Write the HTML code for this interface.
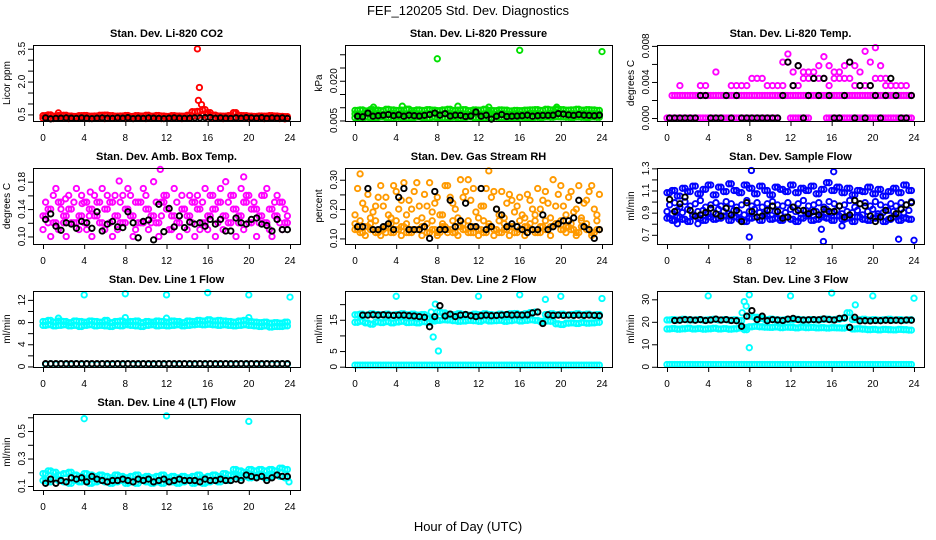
<!DOCTYPE html>
<html><head><meta charset="utf-8">
<style>
html,body{margin:0;padding:0;background:#fff;}
svg{display:block;font-family:"Liberation Sans",Arial,sans-serif;}
</style></head>
<body>
<svg id="chart" width="936" height="540" viewBox="0 0 936 540" xmlns="http://www.w3.org/2000/svg">
<rect x="0" y="0" width="936" height="540" fill="#fff"/>
<text x="468" y="15" text-anchor="middle" font-size="13">FEF_120205  Std. Dev. Diagnostics</text>
<text x="468" y="531" text-anchor="middle" font-size="13">Hour of Day (UTC)</text>
</svg>
<script>
const H=[0.25,0.75,1.25,1.75,2.25,2.75,3.25,3.75,4.25,4.75,5.25,5.75,6.25,6.75,7.25,7.75,8.25,8.75,9.25,9.75,10.25,10.75,11.25,11.75,12.25,12.75,13.25,13.75,14.25,14.75,15.25,15.75,16.25,16.75,17.25,17.75,18.25,18.75,19.25,19.75,20.25,20.75,21.25,21.75,22.25,22.75,23.25,23.75];
const H2=[0.0,0.5,1.0,1.5,2.0,2.5,3.0,3.5,4.0,4.5,5.0,5.5,6.0,6.5,7.0,7.5,8.0,8.5,9.0,9.5,10.0,10.5,11.0,11.5,12.0,12.5,13.0,13.5,14.0,14.5,15.0,15.5,16.0,16.5,17.0,17.5,18.0,18.5,19.0,19.5,20.0,20.5,21.0,21.5,22.0,22.5,23.0,23.5];
const xTicks=[0,4,8,12,16,20,24];
// Panel 1 CO2
const co2Hi=[0.44,0.48,0.42,0.45,0.46,0.43,0.41,0.44,0.45,0.42,0.43,0.46,0.47,0.44,0.42,0.43,0.45,0.41,0.44,0.43,0.46,0.42,0.45,0.43,0.41,0.44,0.43,0.42,0.46,0.62,0.64,0.72,0.58,0.47,0.43,0.42,0.44,0.58,0.45,0.44,0.42,0.41,0.43,0.42,0.44,0.43,0.41,0.40];
const co2Lo=[0.33,0.35,0.31,0.32,0.34,0.31,0.33,0.32,0.34,0.31,0.32,0.33,0.31,0.33,0.34,0.32,0.31,0.33,0.32,0.34,0.31,0.32,0.33,0.31,0.33,0.32,0.34,0.31,0.33,0.40,0.42,0.45,0.38,0.33,0.32,0.31,0.33,0.34,0.32,0.33,0.31,0.32,0.33,0.31,0.32,0.33,0.31,0.30];
const co2Blk=[0.34,0.30,0.32,0.33,0.34,0.33,0.32,0.34,0.33,0.31,0.33,0.34,0.33,0.32,0.34,0.33,0.35,0.31,0.33,0.32,0.34,0.33,0.32,0.31,0.33,0.34,0.33,0.32,0.33,0.34,0.34,0.35,0.36,0.33,0.34,0.33,0.32,0.34,0.33,0.35,0.34,0.33,0.35,0.32,0.34,0.33,0.34,0.32];
const co2OutH=[15.0,15.2,15.1,15.4,14.5,15.9,1.5,18.7];
const co2OutV=[3.49,1.73,1.14,0.95,0.62,0.55,0.57,0.56];
// Panel 2 pressure
const prHi=[0.0088,0.0090,0.0086,0.0091,0.0089,0.0087,0.0092,0.0090,0.0088,0.0089,0.0093,0.0087,0.0090,0.0088,0.0091,0.0089,0.0087,0.0090,0.0092,0.0088,0.0089,0.0091,0.0087,0.0090,0.0089,0.0092,0.0088,0.0087,0.0090,0.0089,0.0086,0.0088,0.0087,0.0089,0.0090,0.0091,0.0088,0.0092,0.0090,0.0093,0.0091,0.0089,0.0090,0.0092,0.0089,0.0091,0.0090,0.0088];
const prMid=[0.0075,0.0073,0.0077,0.0074,0.0076,0.0072,0.0075,0.0078,0.0074,0.0076,0.0073,0.0077,0.0075,0.0074,0.0076,0.0078,0.0073,0.0075,0.0077,0.0074,0.0076,0.0075,0.0073,0.0077,0.0074,0.0075,0.0076,0.0073,0.0077,0.0075,0.0074,0.0076,0.0073,0.0075,0.0077,0.0076,0.0074,0.0075,0.0078,0.0076,0.0077,0.0075,0.0076,0.0074,0.0077,0.0075,0.0076,0.0074];
const prLo=[0.0060,0.0058,0.0062,0.0059,0.0061,0.0063,0.0060,0.0058,0.0062,0.0061,0.0059,0.0060,0.0063,0.0061,0.0058,0.0062,0.0060,0.0059,0.0061,0.0062,0.0058,0.0060,0.0063,0.0061,0.0059,0.0058,0.0060,0.0062,0.0061,0.0059,0.0060,0.0058,0.0062,0.0061,0.0060,0.0062,0.0061,0.0063,0.0062,0.0064,0.0063,0.0062,0.0061,0.0063,0.0062,0.0061,0.0063,0.0062];
const prBlk=[0.0066,0.0064,0.0078,0.0066,0.0068,0.0070,0.0072,0.0068,0.0071,0.0066,0.0070,0.0068,0.0067,0.0069,0.0072,0.0078,0.0070,0.0076,0.0067,0.0070,0.0069,0.0065,0.0067,0.0082,0.0066,0.0070,0.0055,0.0066,0.0072,0.0065,0.0066,0.0067,0.0068,0.0070,0.0066,0.0068,0.0069,0.0069,0.0070,0.0076,0.0074,0.0071,0.0069,0.0072,0.0070,0.0069,0.0068,0.0070];
const prOutH=[8,16,24,4.6,10,1.8,13,19.6];
const prOutV=[0.0283,0.0315,0.0310,0.0104,0.0104,0.0100,0.0100,0.0100];
// Panel 3 Li-820 temp
const tA=[0,0,0,0,0,0,0,0,0,0,0,0,0,0,0,0,0,0,0,0,0,0,null,null,0,0,0,0,null,null,null,0,0,0,0,0,0,0,0,0,0,0,0,0,0,0,0,0];
const tB=[null,0.0025,0.0025,0.0025,0.0025,0.0025,0.0025,0.0025,0.0025,0.0025,0.0025,0.0025,0.0025,0.0025,0.0025,0.0025,0.0025,0.0025,0.0025,0.0025,0.0025,0.0025,0.0025,0.0025,0.0025,0.0025,0.0025,0.0025,0.0025,0.0025,0.0025,0.0025,0.0025,0.0025,0.0025,0.0025,0.0025,0.0025,0.0025,0.0025,0.0025,0.0025,0.0025,0.0025,0.0025,0.0025,0.0025,0.0025];
const tC=[null,null,0.0036,null,null,null,0.0036,0.0036,null,0.0051,null,null,0.0036,0.0036,0.0036,0.0036,0.0044,0.0044,0.0044,0.0036,0.0036,0.0036,0.0036,0.0062,0.0036,0.0036,0.0044,0.0044,0.0044,0.0044,0.0044,0.0036,0.0044,0.0044,0.0044,0.0044,0.0036,0.0036,0.0036,0.0036,0.0044,0.0044,0.0036,0.0036,0.0036,0.0036,0.0036,null];
const tD=[null,null,null,null,null,null,null,null,null,null,null,null,null,null,null,null,null,null,null,null,null,null,0.0062,0.0071,0.0051,0.0058,0.0051,0.0051,0.0051,0.0058,0.0068,0.0058,0.0051,0.0051,0.0058,0.0062,0.0058,0.0051,0.0074,0.0062,0.0078,0.0058,0.0044,null,null,null,null,null];
const tBlk=[0,0,0,0,0,0,0.0025,0.0025,0,0,0,0.0025,0,0.0025,0,0,0,0,0,0,0,0,0.0025,0.0062,0.0036,0.0058,0,0.0025,0.0044,0.0025,0.0044,0.0025,0,0,0.0025,0.0062,0,0.0036,0,0.0036,0.0025,0,0.0025,0.0044,0.0025,0,0,0.0025];
// Panel 4 amb box temp
const ambM1=[0.13,0.14,0.12,0.15,0.13,0.14,0.12,0.13,0.15,0.14,0.13,0.12,0.14,0.15,0.13,0.12,0.14,0.13,0.15,0.12,0.14,0.13,0.12,0.15,0.14,0.13,0.12,0.14,0.13,0.15,0.14,0.12,0.13,0.14,0.15,0.13,0.12,0.14,0.13,0.15,0.12,0.14,0.13,0.12,0.14,0.13,0.15,0.12];
const ambM2=[0.11,0.12,0.16,0.11,0.12,0.16,0.15,0.11,0.12,0.13,0.16,0.15,0.11,0.12,0.16,0.15,0.12,0.16,0.11,0.15,0.16,0.12,0.15,0.13,0.16,0.11,0.15,0.16,0.11,0.12,0.16,0.15,0.11,0.16,0.12,0.11,0.15,0.16,0.12,0.11,0.16,0.15,0.12,0.16,0.11,0.15,0.12,0.14];
const ambM3=[0.15,0.10,0.17,0.14,0.10,0.12,0.17,0.16,0.11,0.10,0.15,0.17,0.16,0.10,0.11,0.16,0.17,0.10,0.12,0.17,0.11,0.18,0.10,0.16,0.11,0.17,0.10,0.14,0.16,0.10,0.11,0.17,0.16,0.10,0.17,0.18,0.16,0.10,0.17,0.16,0.14,0.10,0.16,0.17,0.10,0.16,0.11,0.13];
const ambOutH=[11.4,19.5,4.6,7.4,2.2,3.8];
const ambOutV=[0.198,0.187,0.165,0.181,0.155,0.148];
const ambBlk=[0.125,0.133,0.115,0.109,0.12,0.118,0.112,0.122,0.12,0.112,0.136,0.108,0.118,0.122,0.114,0.113,0.136,0.12,0.098,0.122,0.124,0.095,0.147,0.107,0.141,0.114,0.13,0.113,0.121,0.118,0.12,0.115,0.125,0.118,0.125,0.108,0.108,0.127,0.12,0.118,0.125,0.127,0.118,0.116,0.108,0.125,0.11,0.11];
// Panel 5 RH
const rhLo1=[0.13,0.12,0.14,0.13,0.12,0.13,0.14,0.12,0.13,0.14,0.12,0.13,0.13,0.14,0.12,0.13,0.12,0.14,0.13,0.12,0.14,0.13,0.12,0.14,0.13,0.12,0.14,0.13,0.12,0.13,0.14,0.12,0.13,0.14,0.13,0.12,0.14,0.13,0.14,0.15,0.13,0.14,0.13,0.12,0.14,0.13,0.12,0.13];
const rhLo2=[0.15,0.16,0.11,0.15,0.16,0.11,0.12,0.15,0.16,0.11,0.15,0.12,0.16,0.11,0.15,0.16,0.11,0.15,0.12,0.16,0.11,0.15,0.16,0.12,0.11,0.16,0.15,0.11,0.16,0.15,0.11,0.12,0.16,0.11,0.15,0.16,0.12,0.16,0.11,0.15,0.16,0.12,0.15,0.11,0.16,0.15,0.11,0.16];
const rhHi1=[0.27,0.22,0.25,0.19,0.24,0.21,0.18,0.28,0.20,0.29,0.23,0.26,0.21,0.25,0.29,0.22,0.18,0.28,0.24,0.20,0.30,0.26,0.23,0.19,0.21,0.27,0.24,0.20,0.26,0.22,0.23,0.21,0.18,0.25,0.20,0.27,0.23,0.22,0.30,0.25,0.21,0.24,0.19,0.28,0.22,0.26,0.20,0.25];
const rhHi2=[0.18,0.32,0.20,0.17,0.21,0.28,0.24,0.17,0.26,0.23,0.18,0.20,0.29,0.17,0.21,0.19,0.24,0.18,0.28,0.22,0.17,0.24,0.30,0.27,0.17,0.21,0.33,0.26,0.18,0.17,0.25,0.19,0.24,0.17,0.23,0.18,0.20,0.26,0.17,0.21,0.28,0.18,0.26,0.20,0.17,0.23,0.28,0.18];
const rhBlk=[0.14,0.14,0.27,0.13,0.13,0.14,0.15,0.13,0.24,0.27,0.13,0.13,0.13,0.14,0.10,0.26,0.13,0.13,0.23,0.14,0.16,0.22,0.14,0.14,0.27,0.13,0.14,0.20,0.18,0.14,0.15,0.14,0.13,0.12,0.13,0.13,0.18,0.13,0.14,0.15,0.16,0.16,0.17,0.23,0.14,0.13,0.10,0.13];
// Panel 6 sample flow
const flHi=[1.08,1.10,1.05,1.12,1.09,1.14,1.07,1.11,1.15,1.06,1.13,1.09,1.16,1.10,1.08,1.15,1.12,1.07,1.14,1.10,1.06,1.13,1.11,1.09,1.15,1.08,1.12,1.10,1.14,1.07,1.11,1.17,1.10,1.13,1.08,1.12,1.06,1.10,1.09,1.13,1.07,1.11,1.05,1.09,1.12,1.08,1.15,1.10];
const flMid=[0.97,0.99,0.95,1.00,0.96,0.98,1.01,0.95,0.97,0.99,0.96,1.00,0.98,0.95,0.97,1.01,0.96,0.99,0.95,0.98,1.00,0.97,0.96,0.99,0.95,0.98,1.01,0.96,0.97,0.99,0.95,1.00,0.98,0.96,0.97,1.01,0.95,0.98,0.99,0.96,1.00,0.97,0.95,0.98,0.96,0.99,0.97,1.00];
const flLo1=[0.91,0.89,0.92,0.90,0.93,0.88,0.91,0.92,0.89,0.90,0.93,0.91,0.89,0.92,0.90,0.88,0.91,0.93,0.90,0.89,0.92,0.91,0.88,0.90,0.93,0.91,0.89,0.92,0.90,0.91,0.88,0.93,0.90,0.92,0.89,0.91,0.90,0.92,0.88,0.91,0.93,0.89,0.90,0.92,0.91,0.89,0.90,0.92];
const flLo2=[0.85,0.83,0.86,0.84,0.82,0.87,0.85,0.83,0.86,0.84,0.85,0.87,0.83,0.86,0.84,0.82,0.85,0.86,0.83,0.87,0.84,0.85,0.83,0.86,0.84,0.82,0.85,0.87,0.83,0.84,0.86,0.85,0.83,0.87,0.84,0.85,0.82,0.86,0.84,0.83,0.85,0.87,0.82,0.84,0.86,0.83,0.85,0.84];
const flBlk=[1.02,0.91,0.98,1.04,0.92,0.87,0.88,0.90,0.94,0.89,0.87,0.94,0.88,0.92,0.82,0.99,0.91,0.86,0.87,0.92,0.96,0.91,0.85,0.86,0.95,0.92,0.92,0.89,0.91,0.88,0.93,0.91,0.91,0.96,0.86,0.88,1.01,0.98,0.96,0.87,0.82,0.86,0.92,0.85,0.89,0.93,0.97,0.99];
const flOutH=[8.0,8.2,16.2,15.2,22.5,24.0,15.0,17.0,1.0,3.0];
const flOutV=[0.68,1.28,1.27,0.64,0.66,0.65,0.75,0.78,0.80,0.80];
// Panel 7 line 1
const l1A=[8.1,8.3,8.0,8.2,8.1,7.9,8.2,8.1,8.0,8.2,8.1,8.0,8.3,7.9,8.1,8.2,8.0,8.1,8.2,7.9,8.1,8.0,8.2,8.1,8.0,8.2,8.1,7.9,8.2,8.1,8.3,8.2,8.4,8.2,8.3,8.2,8.1,8.0,8.2,8.3,8.1,8.0,7.9,8.0,7.8,7.9,7.8,8.0];
const l1B=[7.4,7.5,7.3,7.4,7.5,7.3,7.4,7.2,7.4,7.5,7.3,7.4,7.3,7.2,7.4,7.3,7.5,7.4,7.3,7.2,7.4,7.5,7.3,7.4,7.3,7.4,7.5,7.3,7.4,7.5,7.6,7.5,7.6,7.5,7.4,7.5,7.4,7.3,7.4,7.5,7.4,7.3,7.2,7.3,7.1,7.2,7.2,7.3];
const l1Z=[0.4,0.5,0.4,0.5,0.4,0.4,0.5,0.4,0.5,0.4,0.4,0.5,0.4,0.4,0.5,0.4,0.5,0.4,0.4,0.5,0.4,0.4,0.5,0.4,0.5,0.4,0.4,0.5,0.4,0.4,0.5,0.4,0.5,0.4,0.4,0.5,0.4,0.4,0.5,0.4,0.5,0.4,0.4,0.5,0.4,0.4,0.5,0.4];
const l1Blk=[0.5,0.5,0.5,0.5,0.5,0.5,0.5,0.5,0.5,0.5,0.5,0.5,0.5,0.5,0.5,0.5,0.5,0.5,0.5,0.5,0.5,0.5,0.5,0.5,0.5,0.5,0.5,0.5,0.5,0.5,0.5,0.5,0.5,0.5,0.5,0.5,0.5,0.5,0.5,0.5,0.5,0.5,0.5,0.5,0.5,0.5,0.5,0.5];
const l1OutH=[4,8,12,16,20,24,1.5,8,12,20];
const l1OutV=[12.9,13.1,12.9,13.3,12.9,12.5,8.7,8.8,8.7,8.8];
// Panel 8 line 2
const l2A=[16.6,16.8,16.5,16.9,16.7,16.6,16.8,16.5,16.7,16.9,16.6,16.8,16.5,16.7,15.5,15.2,17.5,17.2,16.8,16.6,16.9,16.7,16.5,16.8,16.6,16.9,16.7,16.5,16.8,16.6,16.9,17.0,16.7,16.9,17.3,17.5,14.5,16.7,16.9,16.6,16.8,16.5,16.7,16.9,16.6,16.8,16.5,16.7];
const l2B=[14.2,14.5,14.0,13.6,14.3,14.1,14.4,14.0,14.3,14.5,14.1,14.2,14.0,14.4,14.2,14.6,14.8,15.0,14.9,14.7,14.5,14.6,14.8,14.7,14.5,14.9,14.6,14.7,14.8,14.5,14.7,14.9,14.6,14.8,15.0,14.8,14.4,14.6,14.5,13.7,13.5,13.9,14.0,13.8,14.1,13.9,14.0,14.2];
const l2Z=[0.5,0.5,0.5,0.5,0.5,0.5,0.5,0.5,0.5,0.5,0.5,0.5,0.5,0.5,0.5,0.5,0.5,0.5,0.5,0.5,0.5,0.5,0.5,0.5,0.5,0.5,0.5,0.5,0.5,0.5,0.5,0.5,0.5,0.5,0.5,0.5,0.5,0.5,0.5,0.5,0.5,0.5,0.5,0.5,0.5,0.5,0.5,0.5];
const l2Blk=[null,16.5,16.5,16.6,16.5,16.6,16.5,16.4,16.5,16.5,16.3,16.2,16.0,15.8,12.8,16.0,19.5,16.2,16.8,16.0,16.5,16.7,16.3,16.0,16.3,16.5,16.3,16.4,16.5,16.7,16.5,16.6,16.5,16.6,17.2,17.5,13.8,16.6,16.4,16.5,16.4,16.5,16.4,16.5,16.4,16.5,16.4,16.3];
const l2OutH=[4,7.6,7.8,8.1,12,16,18.5,20,24,7.4];
const l2OutV=[22.5,9.5,20,5,22.5,23,21.5,22.5,21.8,17.5];
// Panel 9 line 3
const l3A=[20.8,21.0,20.7,21.1,20.9,20.8,21.0,20.7,20.9,21.1,20.8,21.0,20.7,20.9,20.5,16.5,22.5,22.0,21.5,21.0,21.2,20.9,20.7,21.0,20.8,21.1,20.9,20.7,21.0,20.8,21.1,21.2,20.9,21.1,21.5,24.0,21.0,20.9,21.1,20.8,21.0,20.7,20.9,21.1,20.8,21.0,20.7,20.9];
const l3B=[16.8,17.0,16.7,16.9,17.1,16.8,17.0,16.7,16.9,17.1,16.8,17.0,16.7,16.9,17.2,17.5,17.8,18.0,17.8,17.6,17.5,17.7,17.4,17.6,17.5,17.3,17.6,17.4,17.5,17.3,17.4,17.2,17.4,17.3,17.2,17.5,16.8,16.9,16.7,16.5,16.6,16.4,16.6,16.5,16.4,16.6,16.5,16.3];
const l3Z=[1,1,1,1,1,1,1,1,1,1,1,1,1,1,1,1,1,1,1,1,1,1,1,1,1,1,1,1,1,1,1,1,1,1,1,1,1,1,1,1,1,1,1,1,1,1,1,1];
const l3Blk=[null,20.6,20.7,21.0,20.9,20.7,21.0,20.6,20.8,21.2,20.8,21.0,20.6,20.5,18.0,22.5,25.0,21.0,22.5,20.5,21.0,20.8,20.6,21.2,21.5,21.0,20.8,20.9,21.0,20.9,21.3,21.0,20.8,21.5,21.8,17.5,22.0,20.4,20.5,20.4,20.6,20.5,20.7,20.6,20.7,20.5,20.8,20.7];
const l3OutH=[4,7.5,8,8,12,16,20,24,7.7,18.3,7.3];
const l3OutV=[31.5,29,32,8.5,31.5,32.8,31.5,30.5,27,27.5,24];
// Panel 10 line 4 (LT)
const l4A=[0.19,0.21,0.20,0.18,0.19,0.20,0.18,0.17,0.19,0.18,0.17,0.18,0.17,0.16,0.18,0.17,0.16,0.17,0.18,0.16,0.17,0.16,0.17,0.18,0.16,0.17,0.16,0.17,0.16,0.17,0.18,0.16,0.17,0.18,0.17,0.19,0.18,0.22,0.21,0.20,0.22,0.21,0.22,0.21,0.22,0.21,0.23,0.22];
const l4B=[0.14,0.13,0.15,0.14,0.13,0.12,0.14,0.13,0.14,0.12,0.13,0.14,0.13,0.12,0.13,0.14,0.12,0.13,0.12,0.14,0.13,0.12,0.13,0.12,0.14,0.13,0.12,0.13,0.14,0.12,0.13,0.12,0.13,0.14,0.13,0.15,0.14,0.17,0.16,0.17,0.16,0.17,0.18,0.16,0.17,0.18,0.17,0.16];
const l4Blk=[0.12,0.15,0.12,0.14,0.13,0.16,0.15,0.16,0.13,0.17,0.15,0.14,0.13,0.14,0.14,0.15,0.14,0.13,0.15,0.14,0.15,0.13,0.14,0.15,0.13,0.14,0.15,0.14,0.14,0.14,0.13,0.15,0.14,0.14,0.15,0.14,0.14,0.15,0.14,0.18,0.17,0.16,0.17,0.14,0.16,0.18,0.17,0.17];
const l4OutH=[4,12,20,23.9];
const l4OutV=[0.59,0.61,0.57,0.13];

const CY="#00ffff";
const panels=[
 {name:"li820-co2",title:"Stan. Dev. Li-820 CO2",yt:"Licor ppm",c:0,r:0,dom:[0.2,3.67],ticks:[0.5,1,1.5,2,2.5,3,3.5],labels:[0.5,2.0,3.5],fmt:1,
  series:[[H,co2Hi,"#ff0000"],[H2,co2Lo,"#ff0000"],[H2,co2Hi,"#ff0000"],[co2OutH,co2OutV,"#ff0000"],[H,co2Blk,"#000"]]},
 {name:"li820-pressure",title:"Stan. Dev. Li-820 Pressure",yt:"kPa",c:1,r:0,dom:[0.0048,0.0335],ticks:[0.005,0.01,0.015,0.02,0.025,0.03],labels:[0.005,0.020],fmt:3,
  series:[[H,prHi,"#00e000"],[H2,prMid,"#00e000"],[H,prMid,"#00e000"],[H2,prLo,"#00e000"],[H,prLo,"#00e000"],[H2,prHi,"#00e000"],[prOutH,prOutV,"#00e000"],[H,prBlk,"#000"]]},
 {name:"li820-temp",title:"Stan. Dev. Li-820 Temp.",yt:"degrees C",c:2,r:0,dom:[-0.00033,0.0081],ticks:[0,0.002,0.004,0.006,0.008],labels:[0,0.004,0.008],fmt:3,
  series:[[H,tA,"#ff00ff"],[H2,tA,"#ff00ff"],[H,tB,"#ff00ff"],[H2,tB,"#ff00ff"],[H,tC,"#ff00ff"],[H,tD,"#ff00ff"],[H,tBlk,"#000"]]},
 {name:"amb-box-temp",title:"Stan. Dev. Amb. Box Temp.",yt:"degrees C",c:0,r:1,dom:[0.089,0.2],ticks:[0.10,0.12,0.14,0.16,0.18],labels:[0.10,0.14,0.18],fmt:2,
  series:[[H,ambM1,"#ff00ff"],[H2,ambM2,"#ff00ff"],[H,ambM3,"#ff00ff"],[H2,ambM1,"#ff00ff"],[ambOutH,ambOutV,"#ff00ff"],[H,ambBlk,"#000"]]},
 {name:"gas-stream-rh",title:"Stan. Dev. Gas Stream RH",yt:"percent",c:1,r:1,dom:[0.081,0.34],ticks:[0.10,0.15,0.20,0.25,0.30],labels:[0.10,0.20,0.30],fmt:2,
  series:[[H,rhHi1,"#ff9a00"],[H2,rhHi2,"#ff9a00"],[H,rhLo1,"#ff9a00"],[H2,rhLo2,"#ff9a00"],[H2,rhLo1,"#ff9a00"],[H,rhBlk,"#000"]]},
 {name:"sample-flow",title:"Stan. Dev. Sample Flow",yt:"ml/min",c:2,r:1,dom:[0.617,1.303],ticks:[0.7,0.8,0.9,1.0,1.1,1.2,1.3],labels:[0.7,0.9,1.1,1.3],fmt:1,
  series:[[H,flHi,"#0000ff"],[H2,flHi,"#0000ff"],[H,flMid,"#0000ff"],[H2,flLo1,"#0000ff"],[H,flLo2,"#0000ff"],[H2,flLo2,"#0000ff"],[flOutH,flOutV,"#0000ff"],[H,flBlk,"#000"]]},
 {name:"line1-flow",title:"Stan. Dev. Line 1 Flow",yt:"ml/min",c:0,r:2,dom:[-0.1,13.6],ticks:[0,2,4,6,8,10,12],labels:[0,4,8,12],fmt:0,
  series:[[H,l1A,CY],[H2,l1B,CY],[H,l1B,CY],[H2,l1A,CY],[H,l1Z,CY],[l1OutH,l1OutV,CY],[H,l1Blk,"#000"]]},
 {name:"line2-flow",title:"Stan. Dev. Line 2 Flow",yt:"ml/min",c:1,r:2,dom:[-0.1,24.2],ticks:[0,5,10,15,20],labels:[0,5,15],fmt:0,
  series:[[H,l2A,CY],[H2,l2A,CY],[H,l2B,CY],[H2,l2B,CY],[H,l2Z,CY],[H2,l2Z,CY],[l2OutH,l2OutV,CY],[H,l2Blk,"#000"]]},
 {name:"line3-flow",title:"Stan. Dev. Line 3 Flow",yt:"ml/min",c:2,r:2,dom:[-0.1,33.7],ticks:[0,10,20,30],labels:[0,10,20,30],fmt:0,
  series:[[H,l3A,CY],[H2,l3A,CY],[H,l3B,CY],[H2,l3B,CY],[H,l3Z,CY],[H2,l3Z,CY],[l3OutH,l3OutV,CY],[H,l3Blk,"#000"]]},
 {name:"line4-lt-flow",title:"Stan. Dev. Line 4 (LT) Flow",yt:"ml/min",c:0,r:3,dom:[0.071,0.624],ticks:[0.1,0.2,0.3,0.4,0.5,0.6],labels:[0.1,0.3,0.5],fmt:1,
  series:[[H,l4A,CY],[H2,l4A,CY],[H,l4B,CY],[H2,l4B,CY],[l4OutH,l4OutV,CY],[H,l4Blk,"#000"]]}
];

const NS="http://www.w3.org/2000/svg";
const svg=document.getElementById('chart');
function mk(tag,attrs,parent){const e=document.createElementNS(NS,tag);for(const k in attrs)e.setAttribute(k,attrs[k]);parent.appendChild(e);return e;}
panels.forEach(p=>{
  const left=33+312*p.c, right=300+312*p.c, top=45+123*p.r, bottom=top+76;
  const x0=43+312*p.c, x1=290+312*p.c;
  const xs=h=>x0+(x1-x0)*h/24;
  const ys=v=>bottom-(v-p.dom[0])/(p.dom[1]-p.dom[0])*(bottom-top);
  const g=mk('g',{},svg);
  
  
  const t=mk('text',{x:(left+right)/2,y:top-8,'text-anchor':'middle','font-size':'11','font-weight':'bold'},g);
  t.textContent=p.title;
  
  
  const yt=mk('text',{x:0,y:0,'text-anchor':'middle','font-size':'10',transform:`translate(${left-23},${(top+bottom)/2}) rotate(-90)`},g);
  yt.textContent=p.yt;
  
  
  const pts=mk('g',{fill:'none','stroke-width':'1.9'},g);
  
  
  p.series.forEach(s=>{
    const hh=s[0], vv=s[1];
    for(let i=0;i<vv.length;i++){
      if(vv[i]===null||vv[i]===undefined)continue;
      const c=mk('circle',{cx:xs(hh[i]).toFixed(1),cy:ys(vv[i]).toFixed(1),r:'2.7',stroke:s[2]},pts);
      
      
    }
  });
  const box=mk('rect',{x:left+0.5,y:top+0.5,width:right-left,height:bottom-top,fill:'none',stroke:'#000','stroke-width':'1'},g);
  
  
  const xa=mk('g',{stroke:'#000','stroke-width':'1'},g);
  
  
  mk('line',{x1:xs(xTicks[0]),x2:xs(xTicks[xTicks.length-1]),y1:bottom+0.5,y2:bottom+0.5},xa);
  xTicks.forEach(h=>{
    mk('line',{x1:xs(h)+0.5,x2:xs(h)+0.5,y1:bottom,y2:bottom+5},xa);
    const l=mk('text',{x:xs(h),y:bottom+20,'text-anchor':'middle','font-size':'10',stroke:'none',fill:'#000'},xa);
    l.textContent=h;
    
    
  });
  const ya=mk('g',{stroke:'#000','stroke-width':'1'},g);
  
  
  mk('line',{x1:left+0.5,x2:left+0.5,y1:ys(p.ticks[0]),y2:ys(p.ticks[p.ticks.length-1])},ya);
  p.ticks.forEach(v=>{mk('line',{x1:left-5,x2:left,y1:ys(v)+0.5,y2:ys(v)+0.5},ya);});
  p.labels.forEach(v=>{
    const yy=ys(v);
    const l=mk('text',{x:0,y:0,'text-anchor':'middle','font-size':'10',stroke:'none',fill:'#000',transform:`translate(${left-8},${yy}) rotate(-90)`},ya);
    l.textContent=v.toFixed(p.fmt);
    
    
  });
});
</script>
</body></html>
